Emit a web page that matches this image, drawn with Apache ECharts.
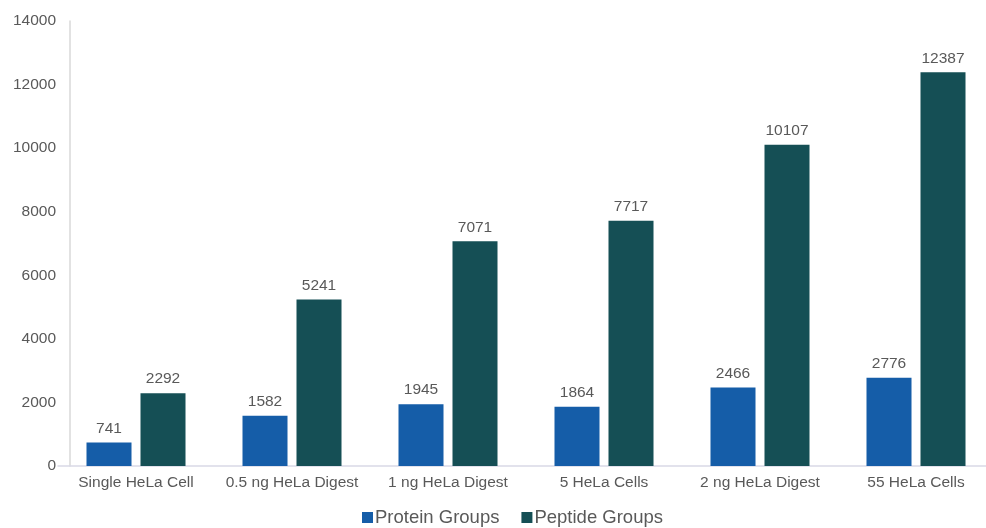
<!DOCTYPE html>
<html>
<head>
<meta charset="utf-8">
<script src="https://cdn.jsdelivr.net/npm/echarts@6/dist/echarts.min.js"></script>
<style>
html,body{margin:0;padding:0;background:#fff;}
#main{width:986px;height:528px;}
</style>
</head>
<body>
<div id="main"></div>
<script>
var categories = ['Single HeLa Cell','0.5 ng HeLa Digest','1 ng HeLa Digest','5 HeLa Cells','2 ng HeLa Digest','55 HeLa Cells'];
var proteinGroups = [741,1582,1945,1864,2466,2776];
var peptideGroups = [2292,5241,7071,7717,10107,12387];

var myChart = echarts.init(document.getElementById('main'));

var labelStyle = {show:true, position:'top', distance:6, color:'#595959', fontSize:15.5, fontFamily:'Liberation Sans'};

option = {
    animation:false,
    textStyle:{fontFamily:'Liberation Sans'},
    grid:{left:58, top:21, width:936, bottom:62, containLabel:false, outerBoundsMode:'none'},
    legend:{
        top:503,
        left:357,
        padding:5,
        itemWidth:11,
        itemHeight:11,
        itemGap:22,
        icon:'rect',
        textStyle:{color:'#595959', fontSize:18.5, padding:[0,0,0,-3]},
        data:['Protein Groups','Peptide Groups']
    },
    xAxis:{
        type:'category',
        data:categories,
        axisTick:{show:false},
        axisLine:{lineStyle:{color:'#d9d9e6', width:1.5}},
        axisLabel:{color:'#595959', fontSize:15.5, margin:9, interval:0}
    },
    yAxis:{
        type:'value',
        min:0,
        max:14000,
        interval:2000,
        offset:-12,
        splitLine:{show:false},
        axisLine:{show:true, lineStyle:{color:'#d9d9d9', width:1.5}},
        axisLabel:{color:'#595959', fontSize:15.5, margin:14, formatter:function(v){return String(v);}}
    },
    series:[
        {
            name:'Protein Groups',
            type:'bar',
            data:proteinGroups,
            barWidth:45,
            barGap:'20%',
            itemStyle:{color:'#155da8'},
            label:labelStyle
        },
        {
            name:'Peptide Groups',
            type:'bar',
            data:peptideGroups,
            barWidth:45,
            itemStyle:{color:'#154f55'},
            label:labelStyle
        }
    ]
};
myChart.setOption(option);
</script>
</body>
</html>
